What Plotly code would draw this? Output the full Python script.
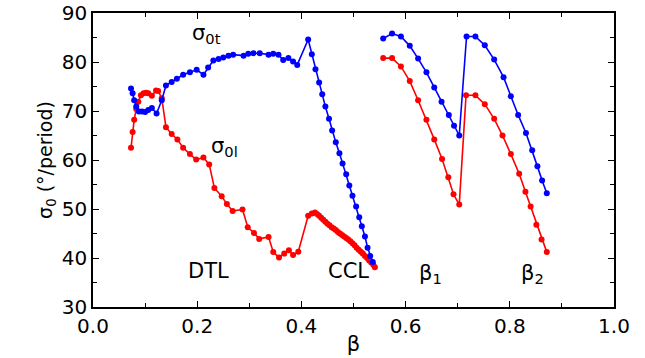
import plotly.graph_objects as go

# sigma_0t (transverse) - blue
beta_t = [0.073, 0.076, 0.079, 0.083, 0.088, 0.094, 0.100, 0.106, 0.113, 0.122,
          0.132, 0.140, 0.151, 0.161, 0.173, 0.186, 0.199, 0.212, 0.221, 0.231,
          0.241, 0.250, 0.260, 0.269, 0.289, 0.298, 0.308, 0.320, 0.337, 0.346,
          0.356, 0.365, 0.375, 0.384, 0.392,
          0.413, 0.420, 0.427, 0.434, 0.440, 0.446, 0.453, 0.459, 0.466, 0.473,
          0.479, 0.486, 0.492, 0.498, 0.505, 0.511, 0.516, 0.522, 0.527, 0.532, 0.537,
          None,
          0.557, 0.574, 0.591, 0.608, 0.624, 0.640, 0.655, 0.669, 0.683, 0.693, 0.703,
          0.717, 0.734, 0.752, 0.770, 0.788, 0.802, 0.816, 0.831, 0.843, 0.853, 0.862, 0.871]
sig_t = [74.6, 73.6, 72.2, 70.9, 69.9, 69.9, 69.8, 70.2, 70.6, 69.5,
         72.2, 75.2, 75.9, 76.6, 77.4, 77.9, 78.4, 77.4, 78.9, 80.3,
         80.6, 80.9, 81.3, 81.5, 81.3, 81.7, 81.8, 81.8, 81.5, 81.7,
         81.5, 80.4, 80.8, 80.1, 79.4,
         84.6, 81.6, 78.5, 75.8, 73.4, 70.9, 68.4, 66.0, 63.6, 61.4,
         59.3, 57.1, 54.8, 52.7, 50.5, 48.3, 46.5, 44.4, 42.1, 40.4, 39.2,
         None,
         84.8, 85.8, 85.2, 83.3, 80.7, 77.9, 74.8, 71.9, 69.2, 67.0, 65.0,
         85.2, 85.2, 83.4, 80.5, 76.9, 73.0, 69.2, 65.5, 62.0, 58.7, 55.8, 53.2]

# sigma_0l (longitudinal) - red
beta_l = [0.073, 0.076, 0.079, 0.083, 0.087, 0.092, 0.097, 0.102, 0.106, 0.113,
          0.121, 0.125, 0.132, 0.140, 0.151, 0.162, 0.173, 0.186, 0.198, 0.212,
          0.223, 0.233, 0.247, 0.257, 0.268, 0.287, 0.297, 0.309, 0.319, 0.337,
          0.346, 0.357, 0.367, 0.376, 0.384, 0.394,
          0.413, 0.420, 0.426, 0.430, 0.434, 0.438, 0.442, 0.446, 0.450, 0.454,
          0.458, 0.462, 0.466, 0.470, 0.474, 0.478, 0.482, 0.486, 0.490, 0.494,
          0.498, 0.502, 0.506, 0.510, 0.514, 0.518, 0.522, 0.526, 0.530, 0.534,
          0.538, 0.541,
          None,
          0.557, 0.574, 0.591, 0.608, 0.624, 0.640, 0.655, 0.670, 0.682, 0.692, 0.703,
          0.716, 0.734, 0.752, 0.770, 0.786, 0.802, 0.818, 0.830, 0.840, 0.851, 0.861, 0.871]
sig_l = [62.5, 65.7, 68.2, 70.4, 71.9, 73.2, 73.6, 73.7, 73.6, 73.1,
         74.2, 74.1, 72.6, 66.7, 65.3, 64.2, 62.5, 61.2, 60.1, 60.5,
         59.1, 54.3, 52.6, 51.0, 49.6, 49.9, 46.3, 45.1, 43.9, 44.3,
         41.2, 40.1, 40.9, 41.6, 40.6, 41.3,
         48.6, 49.1, 49.3, 49.0, 48.6, 48.2, 47.8, 47.4, 47.0, 46.7,
         46.3, 46.0, 45.7, 45.3, 45.0, 44.7, 44.4, 44.1, 43.8, 43.4,
         43.0, 42.6, 42.1, 41.7, 41.3, 40.9, 40.4, 40.0, 39.5, 39.1,
         38.6, 38.1,
         None,
         80.8, 80.8, 79.1, 76.1, 72.2, 68.2, 64.2, 60.2, 56.5, 53.0, 50.9,
         73.2, 73.2, 71.4, 68.4, 65.0, 61.2, 57.2, 53.5, 50.5, 46.8, 43.8, 41.2]

labels = [
    (0.217, 85.8, "σ<sub>0t</sub>"),
    (0.253, 62.6, "σ<sub>0l</sub>"),
    (0.221, 37.4, "DTL"),
    (0.490, 37.4, "CCL"),
    (0.647, 36.8, "β<sub>1</sub>"),
    (0.843, 36.8, "β<sub>2</sub>"),
]

FONT = "DejaVu Sans, Liberation Sans, Arial, sans-serif"

fig = go.Figure()
fig.add_trace(go.Scatter(x=beta_l, y=sig_l, mode="lines+markers",
                         line=dict(color="#ff0000", width=1.6),
                         marker=dict(color="#ff0000", size=6),
                         connectgaps=False, showlegend=False))
fig.add_trace(go.Scatter(x=beta_t, y=sig_t, mode="lines+markers",
                         line=dict(color="#0000ff", width=1.6),
                         marker=dict(color="#0000ff", size=6),
                         connectgaps=False, showlegend=False))

for x, y, t in labels:
    fig.add_annotation(x=x, y=y, text=t, showarrow=False,
                       font=dict(family=FONT, size=21, color="black"))

axis_common = dict(showgrid=False, zeroline=False, showline=True, linecolor="black",
                   linewidth=1.5, mirror="ticks", ticks="inside", ticklen=6,
                   tickcolor="black", tickwidth=1, ticklabeloverflow="allow",
                   automargin=False,
                   tickfont=dict(family=FONT, size=20, color="black"))

fig.update_xaxes(range=[0, 1], tickvals=[0, 0.2, 0.4, 0.6, 0.8, 1.0],
                 ticktext=["0.0", "0.2", "0.4", "0.6", "0.8", "1.0"],
                 minor=dict(dtick=0.1, ticks="inside", ticklen=4, tickcolor="black"),
                 title=dict(text="β", font=dict(family=FONT, size=21, color="black"),
                            standoff=0),
                 **axis_common)
fig.update_yaxes(range=[30, 90], tickvals=[30, 40, 50, 60, 70, 80, 90],
                 minor=dict(dtick=5, ticks="inside", ticklen=4, tickcolor="black"),
                 title=dict(text="σ<sub>0</sub> (°/period)",
                            font=dict(family=FONT, size=19, color="black"), standoff=4),
                 **axis_common)

fig.update_layout(width=645, height=358, paper_bgcolor="white", plot_bgcolor="white",
                  margin=dict(l=93, r=31, t=13, b=51))

fig.write_html("out.html")
